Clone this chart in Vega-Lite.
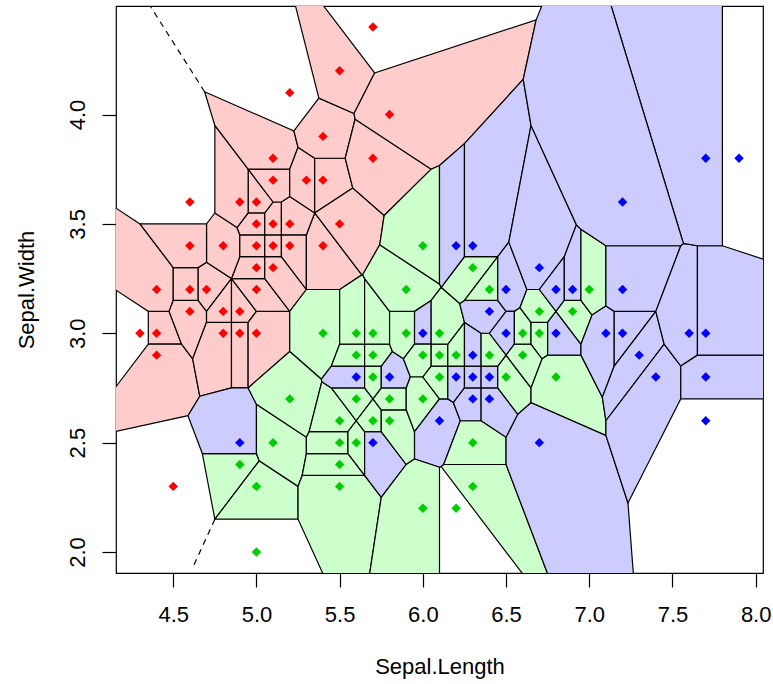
{
"$schema": "https://vega.github.io/schema/vega-lite/v6.json",
"width": 647, "height": 567,
"autosize": {"type": "none"},
"padding": {"left": 116, "top": 6, "right": 10, "bottom": 111},
"background": "white",
"config": {
 "view": {"stroke": "black", "strokeWidth": 1.2},
 "axis": {"domain": false, "grid": false, "tickColor": "black", "tickSize": 14, "tickWidth": 1.2,
  "labelFont": "Liberation Sans", "labelFontSize": 22, "labelColor": "black",
  "titleFont": "Liberation Sans", "titleFontSize": 22, "titleFontWeight": "normal", "titleColor": "black"}
},
"encoding": {
 "x": {"field": "x", "type": "quantitative", "scale": {"domain": [4.156, 8.044], "nice": false, "zero": false},
  "axis": {"values": [4.5,5,5.5,6,6.5,7,7.5,8], "format": ".1f", "title": "Sepal.Length", "labelPadding": 17, "titleY": 100, "titleBaseline": "alphabetic"}},
 "y": {"field": "y", "type": "quantitative", "scale": {"domain": [1.904, 4.496], "nice": false, "zero": false},
  "axis": {"values": [2,2.5,3,3.5,4], "format": ".1f", "title": "Sepal.Width", "labelAngle": -90, "labelAlign": "center", "labelBaseline": "bottom", "labelPadding": 13, "titleX": -83, "titleBaseline": "alphabetic", "titleAngle": -90}}
},
"layer": [
 {
  "data": {"values": "c,s,x,y\n1,S,4.55,2.95\n1,S,4.475,3.1\n1,S,4.35,3.1\n1,S,4.35,2.95\n2,S,4.5885,2.6231\n2,S,4.6595,2.7119\n2,S,4.6167,2.8833\n2,S,4.55,2.95\n2,S,4.35,2.95\n2,S,3.91,2.51\n3,S,4.5,3.3\n3,S,4.3,3.5\n3,S,2.3,4.5\n3,S,2.35,4.1\n3,S,4.35,3.1\n3,S,4.475,3.1\n3,S,4.5,3.15\n4,S,4.7,3.1\n4,S,4.65,3.15\n4,S,4.5,3.15\n4,S,4.475,3.1\n4,S,4.55,2.95\n4,S,4.6167,2.8833\n4,S,4.7,3.05\n5,S,4.65,3.15\n5,S,4.65,3.3\n5,S,4.5,3.3\n5,S,4.5,3.15\n6,S,4.85,3.25\n6,S,4.7,3.325\n6,S,4.65,3.3\n6,S,4.65,3.15\n6,S,4.7,3.1\n7,S,4.85,3.05\n7,S,4.7,3.05\n7,S,4.6167,2.8833\n7,S,4.6595,2.7119\n7,S,4.85,2.75\n8,S,4.85,3.05\n8,S,4.85,3.25\n8,S,4.7,3.1\n8,S,4.7,3.05\n9,S,4.95,3.05\n9,S,4.85,3.05\n9,S,4.85,2.75\n9,S,4.95,2.75\n10,S,5,3.1\n10,S,4.85,3.25\n10,S,4.85,3.05\n10,S,4.95,3.05\n11,S,5.2,2.9167\n11,S,5.2,3.1\n11,S,5,3.1\n11,S,4.95,3.05\n11,S,4.95,2.75\n12,S,5.2,3.1\n12,S,5.05,3.25\n12,S,4.85,3.25\n12,S,5,3.1\n13,S,5.05,3.25\n13,S,5.05,3.35\n13,S,4.9,3.35\n13,S,4.85,3.25\n14,S,5.3,3.2\n14,S,5.15,3.35\n14,S,5.05,3.35\n14,S,5.05,3.25\n14,S,5.2,3.1\n15,S,4.9,3.45\n15,S,4.8833,3.4833\n15,S,4.75,3.55\n15,S,4.7,3.5\n15,S,4.7,3.325\n15,S,4.85,3.25\n15,S,4.9,3.35\n16,S,4.7,3.5\n16,S,4.3,3.5\n16,S,4.5,3.3\n16,S,4.65,3.3\n16,S,4.7,3.325\n17,S,5.05,3.45\n17,S,4.9,3.45\n17,S,4.9,3.35\n17,S,5.05,3.35\n18,S,5.05,3.35\n18,S,5.15,3.35\n18,S,5.15,3.45\n18,S,5.05,3.45\n19,S,5.3,3.45\n19,S,5.15,3.45\n19,S,5.15,3.35\n19,S,5.3,3.2\n20,S,5.35,3.55\n20,S,5.3,3.45\n20,S,5.3,3.2\n20,S,5.5,3.2\n20,S,5.6333,3.2667\n21,V,5.5,3.2\n21,V,5.3,3.2\n21,V,5.2,3.1\n21,V,5.2,2.9167\n21,V,5.39,2.79\n21,V,5.45,2.85\n21,V,5.5,2.95\n22,S,5.05,3.55\n22,S,4.95,3.55\n22,S,4.8833,3.4833\n22,S,4.9,3.45\n22,S,5.05,3.45\n23,S,5.15,3.6\n23,S,5.1,3.6\n23,S,5.05,3.55\n23,S,5.05,3.45\n23,S,5.15,3.45\n24,S,5.35,3.55\n24,S,5.2,3.625\n24,S,5.15,3.6\n24,S,5.15,3.45\n24,S,5.3,3.45\n25,S,5.1,3.6\n25,S,4.95,3.75\n25,S,4.95,3.55\n25,S,5.05,3.55\n26,S,4.95,3.75\n26,S,4.75,3.95\n26,S,4.75,3.55\n26,S,4.8833,3.4833\n26,S,4.95,3.55\n27,S,5.2,3.75\n27,S,4.95,3.75\n27,S,5.1,3.6\n27,S,5.15,3.6\n27,S,5.2,3.625\n28,S,5.25,3.85\n28,S,5.225,3.925\n28,S,4.6885,4.1038\n28,S,4.75,3.95\n28,S,4.95,3.75\n28,S,5.2,3.75\n29,S,5.35,3.8\n29,S,5.25,3.85\n29,S,5.2,3.75\n29,S,5.2,3.625\n29,S,5.35,3.55\n30,S,5.5333,3.8\n30,S,5.35,3.8\n30,S,5.35,3.55\n30,S,5.5786,3.6643\n31,S,5.7676,3.5382\n31,S,5.5786,3.6643\n31,S,5.35,3.55\n31,S,5.6333,3.2667\n31,S,5.6382,3.2676\n31,S,5.7409,3.4045\n32,S,5.5929,3.9786\n32,S,5.5864,4.0045\n32,S,5.375,4.075\n32,S,5.225,3.925\n32,S,5.25,3.85\n32,S,5.35,3.8\n32,S,5.5333,3.8\n33,S,5.5929,3.9786\n33,S,5.5333,3.8\n33,S,5.5786,3.6643\n33,S,5.7676,3.5382\n33,S,6.05,3.75\n34,S,5.15,4.75\n34,S,5.375,4.075\n34,S,5.5864,4.0045\n34,S,5.71,4.19\n35,S,6.6031,4.1609\n35,S,6.6808,4.4327\n35,S,5.71,4.19\n35,S,5.5864,4.0045\n35,S,5.5929,3.9786\n35,S,6.05,3.75\n35,S,6.1,3.7667\n35,S,6.25,3.8667\n36,V,5.0167,2.4167\n36,V,5,2.45\n36,V,4.675,2.45\n36,V,4.75,2.15\n37,G,5,2.675\n37,G,4.95,2.75\n37,G,4.85,2.75\n37,G,4.6595,2.7119\n37,G,4.5885,2.6231\n37,G,4.675,2.45\n37,G,5,2.45\n38,V,5.25,2.3\n38,V,5.0167,2.4167\n38,V,4.75,2.15\n38,V,5.25,2.15\n39,V,5.3,2.525\n39,V,5,2.675\n39,V,5,2.45\n39,V,5.0167,2.4167\n39,V,5.25,2.3\n39,V,5.275,2.35\n39,V,5.3,2.45\n40,V,5.3929,2.7786\n40,V,5.39,2.79\n40,V,5.2,2.9167\n40,V,4.95,2.75\n40,V,5,2.675\n40,V,5.3,2.525\n40,V,5.3167,2.55\n41,V,5.65,2.35\n41,V,5.275,2.35\n41,V,5.25,2.3\n41,V,5.25,2.15\n41,V,5.61,1.55\n41,V,5.75,2.25\n42,V,5.55,2.45\n42,V,5.3,2.45\n42,V,5.275,2.35\n42,V,5.65,2.35\n43,V,5.55,2.55\n43,V,5.3167,2.55\n43,V,5.3,2.525\n43,V,5.3,2.45\n43,V,5.55,2.45\n44,V,5.6,2.6\n44,V,5.45,2.75\n44,V,5.3929,2.7786\n44,V,5.3167,2.55\n44,V,5.55,2.55\n45,V,5.65,2.55\n45,V,5.6,2.6\n45,V,5.55,2.55\n45,V,5.55,2.45\n45,V,5.65,2.35\n46,G,5.75,2.55\n46,G,5.65,2.55\n46,G,5.65,2.35\n46,G,5.75,2.25\n46,G,5.9,2.4\n47,V,5.7,2.7\n47,V,5.65,2.75\n47,V,5.45,2.75\n47,V,5.6,2.6\n48,V,5.75,2.65\n48,V,5.7,2.7\n48,V,5.6,2.6\n48,V,5.65,2.55\n48,V,5.75,2.55\n49,V,5.9,2.65\n49,V,5.75,2.65\n49,V,5.75,2.55\n49,V,5.9,2.4\n49,V,5.95,2.425\n49,V,5.95,2.55\n50,V,5.9,2.75\n50,V,5.75,2.75\n50,V,5.7,2.7\n50,V,5.75,2.65\n50,V,5.9,2.65\n51,G,5.65,2.85\n51,G,5.45,2.85\n51,G,5.39,2.79\n51,G,5.3929,2.7786\n51,G,5.45,2.75\n51,G,5.65,2.75\n52,V,5.75,2.85\n52,V,5.65,2.85\n52,V,5.65,2.75\n52,V,5.7,2.7\n52,V,5.75,2.75\n53,G,5.925,2.8\n53,G,5.8833,2.8833\n53,G,5.8167,2.9167\n53,G,5.75,2.85\n53,G,5.75,2.75\n53,G,5.9,2.75\n54,V,5.65,2.95\n54,V,5.5,2.95\n54,V,5.45,2.85\n54,V,5.65,2.85\n55,V,5.8167,2.9167\n55,V,5.8,2.95\n55,V,5.65,2.95\n55,V,5.65,2.85\n55,V,5.75,2.85\n56,V,5.65,3.25\n56,V,5.6382,3.2676\n56,V,5.6333,3.2667\n56,V,5.5,3.2\n56,V,5.5,2.95\n56,V,5.65,2.95\n57,V,5.8,3.1\n57,V,5.65,3.25\n57,V,5.65,2.95\n57,V,5.8,2.95\n58,V,5.95,3.1\n58,V,5.8,3.1\n58,V,5.8,2.95\n58,V,5.8167,2.9167\n58,V,5.8833,2.8833\n58,V,5.95,2.95\n59,V,6.11,3.21\n59,V,6.1,3.225\n59,V,5.7409,3.4045\n59,V,5.6382,3.2676\n59,V,5.65,3.25\n59,V,5.8,3.1\n59,V,5.95,3.1\n59,V,6.05,3.15\n60,V,6.1,3.7667\n60,V,6.05,3.75\n60,V,5.7676,3.5382\n60,V,5.7409,3.4045\n60,V,6.1,3.225\n61,G,6.05,3.15\n61,G,5.95,3.1\n61,G,5.95,2.95\n61,G,6.05,2.95\n62,V,6.05,2.95\n62,V,5.95,2.95\n62,V,5.8833,2.8833\n62,V,5.925,2.8\n62,V,6,2.8\n62,V,6.05,2.85\n63,V,6.1,2.7\n63,V,6,2.8\n63,V,5.925,2.8\n63,V,5.9,2.75\n63,V,5.9,2.65\n63,V,5.95,2.55\n64,G,6.225,2.6\n64,G,6.1833,2.6833\n64,G,6.15,2.7\n64,G,6.1,2.7\n64,G,5.95,2.55\n64,G,5.95,2.425\n64,G,6.1,2.3875\n64,G,6.11,2.39\n64,G,6.125,2.4\n65,V,6.1,2.3875\n65,V,5.95,2.425\n65,V,5.9,2.4\n65,V,5.75,2.25\n65,V,5.61,1.55\n65,V,6.1,-0.9\n66,V,6.5,2.4\n66,V,6.125,2.4\n66,V,6.11,2.39\n66,V,6.9,1.6\n67,V,6.5,2.525\n67,V,6.35,2.6\n67,V,6.225,2.6\n67,V,6.125,2.4\n67,V,6.5,2.4\n68,G,7.1,2.5333\n68,G,6.65,2.6833\n68,G,6.57,2.63\n68,G,6.5,2.525\n68,G,6.5,2.4\n68,G,6.9,1.6\n68,G,7.374,0.81\n68,G,7.2326,2.2239\n69,V,6.15,2.85\n69,V,6.05,2.85\n69,V,6,2.8\n69,V,6.1,2.7\n69,V,6.15,2.7\n70,G,6.25,2.85\n70,G,6.15,2.85\n70,G,6.15,2.7\n70,G,6.1833,2.6833\n70,G,6.25,2.75\n71,G,6.35,2.75\n71,G,6.25,2.75\n71,G,6.1833,2.6833\n71,G,6.225,2.6\n71,G,6.35,2.6\n72,G,6.45,2.75\n72,G,6.35,2.75\n72,G,6.35,2.6\n72,G,6.5,2.525\n72,G,6.57,2.63\n73,G,6.35,2.85\n73,G,6.25,2.85\n73,G,6.25,2.75\n73,G,6.35,2.75\n74,G,6.45,2.85\n74,G,6.35,2.85\n74,G,6.35,2.75\n74,G,6.45,2.75\n75,V,6.5,2.9\n75,V,6.45,2.85\n75,V,6.45,2.75\n75,V,6.57,2.63\n75,V,6.65,2.6833\n75,V,6.65,2.75\n76,V,6.15,2.95\n76,V,6.05,2.95\n76,V,6.05,2.85\n76,V,6.15,2.85\n77,V,6.25,3.05\n77,V,6.15,2.95\n77,V,6.15,2.85\n77,V,6.25,2.85\n78,G,6.35,3\n78,G,6.25,3.05\n78,G,6.25,2.85\n78,G,6.35,2.85\n79,V,6.5,2.9\n79,V,6.4,3\n79,V,6.35,3\n79,V,6.35,2.85\n79,V,6.45,2.85\n80,V,6.25,3.05\n80,V,6.2214,3.1357\n80,V,6.11,3.21\n80,V,6.05,3.15\n80,V,6.05,2.95\n80,V,6.15,2.95\n81,G,6.5,3.1\n81,G,6.45,3.15\n81,G,6.25,3.15\n81,G,6.2214,3.1357\n81,G,6.25,3.05\n81,G,6.35,3\n81,G,6.4,3\n82,V,6.45,3.35\n82,V,6.25,3.35\n82,V,6.11,3.21\n82,V,6.2214,3.1357\n82,V,6.25,3.15\n83,G,6.25,3.8667\n83,G,6.1,3.7667\n83,G,6.1,3.225\n83,G,6.11,3.21\n83,G,6.25,3.35\n84,G,6.5167,3.4167\n84,G,6.65,3.95\n84,G,6.6031,4.1609\n84,G,6.25,3.8667\n84,G,6.25,3.35\n84,G,6.45,3.35\n85,V,6.45,3.15\n85,V,6.45,3.35\n85,V,6.25,3.15\n86,G,6.625,3.2\n86,G,6.5167,3.4167\n86,G,6.45,3.35\n86,G,6.45,3.15\n86,G,6.5,3.1\n86,G,6.55,3.1\n86,G,6.5833,3.1167\n87,G,6.55,3.1\n87,G,6.5,3.1\n87,G,6.4,3\n87,G,6.5,2.9\n87,G,6.55,2.95\n88,V,6.65,2.95\n88,V,6.55,2.95\n88,V,6.5,2.9\n88,V,6.65,2.75\n88,V,6.7167,2.8833\n89,V,6.65,3.05\n89,V,6.5833,3.1167\n89,V,6.55,3.1\n89,V,6.55,2.95\n89,V,6.65,2.95\n90,V,6.75,3.05\n90,V,6.65,3.05\n90,V,6.65,2.95\n90,V,6.7167,2.8833\n90,V,6.75,2.9\n91,V,6.8,3.1\n91,V,6.7,3.2\n91,V,6.625,3.2\n91,V,6.5833,3.1167\n91,V,6.65,3.05\n91,V,6.75,3.05\n92,G,6.85,3.35\n92,G,6.9227,3.4955\n92,G,6.65,3.95\n92,G,6.5167,3.4167\n92,G,6.625,3.2\n92,G,6.7,3.2\n93,V,6.95,2.9\n93,V,6.75,2.9\n93,V,6.7167,2.8833\n93,V,6.65,2.75\n93,V,6.65,2.6833\n93,V,7.1,2.5333\n93,V,7.1,2.6\n93,V,7.0786,2.7071\n94,G,6.8,3.1\n94,G,6.75,3.05\n94,G,6.75,2.9\n94,G,6.95,2.9\n94,G,6.95,2.95\n95,G,6.85,3.35\n95,G,6.7,3.2\n95,G,6.8,3.1\n95,G,6.85,3.15\n96,V,6.95,3.15\n96,V,6.85,3.15\n96,V,6.8,3.1\n96,V,6.95,2.95\n96,V,7.0167,3.0833\n97,G,6.95,3.475\n97,G,6.9227,3.4955\n97,G,6.85,3.35\n97,G,6.85,3.15\n97,G,6.95,3.15\n98,V,7.1,3.4\n98,V,6.95,3.475\n98,V,6.95,3.15\n98,V,7.0167,3.0833\n98,V,7.1,3.125\n99,G,7.15,3.1\n99,G,7.1,3.125\n99,G,7.0167,3.0833\n99,G,6.95,2.95\n99,G,6.95,2.9\n99,G,7.0786,2.7071\n99,G,7.15,2.85\n100,G,7.4,3.1\n100,G,7.15,3.1\n100,G,7.15,2.85\n101,G,7.55,3.4\n101,G,7.1,3.4\n101,G,7.1,3.125\n101,G,7.15,3.1\n101,G,7.4,3.1\n102,G,7.45,2.95\n102,G,7.4,3.1\n102,G,7.15,2.85\n102,G,7.0786,2.7071\n102,G,7.1,2.6\n103,G,7.55,2.85\n103,G,7.45,2.95\n103,G,7.1,2.6\n103,G,7.1,2.5333\n103,G,7.2326,2.2239\n103,G,7.55,2.7\n104,G,7.65,3.4\n104,G,7.5658,3.4105\n104,G,7.55,3.4\n104,G,7.4,3.1\n104,G,7.45,2.95\n104,G,7.55,2.85\n104,G,7.65,2.9\n105,G,9.8,2.9\n105,G,7.65,2.9\n105,G,7.55,2.85\n105,G,7.55,2.7\n105,G,10.8,2.7\n106,G,7.8,3.4\n106,G,7.65,3.4\n106,G,7.65,2.9\n106,G,9.8,2.9\n107,G,7.8,7.7667\n107,G,6.9529,4.9429\n107,G,7.5658,3.4105\n107,G,7.65,3.4\n107,G,7.8,3.4\n108,G,6.9529,4.9429\n108,G,6.6808,4.4327\n108,G,6.6031,4.1609\n108,G,6.65,3.95\n108,G,6.9227,3.4955\n108,G,6.95,3.475\n108,G,7.1,3.4\n108,G,7.55,3.4\n108,G,7.5658,3.4105", "format": {"type": "csv", "parse": {"x": "number", "y": "number", "c": "string"}}},
  "mark": {"type": "line", "interpolate": "linear-closed", "stroke": "black", "strokeWidth": 1.2, "clip": true},
  "encoding": {
   "detail": {"field": "c", "type": "nominal"},
   "order": {"value": null},
   "fill": {"field": "s", "type": "nominal", "scale": {"domain": ["S", "V", "G"], "range": ["#FFCCCC", "#CCFFCC", "#CCCCFF"]}, "legend": null}
  }
 },
 {
  "data": {"values": [{"x": 4.6885, "y": 4.1038, "x2": 4.3655, "y2": 4.491}, {"x": 4.75, "y": 2.15, "x2": 4.623, "y2": 1.939}]},
  "mark": {"type": "rule", "stroke": "black", "strokeWidth": 1.2, "strokeDash": [6, 5], "clip": true},
  "encoding": {"x2": {"field": "x2"}, "y2": {"field": "y2"}}
 },
 {
  "data": {"values": "x,y,s\n4.3,3.0,S\n4.4,2.9,S\n4.4,3.0,S\n4.4,3.2,S\n4.5,2.3,S\n4.6,3.1,S\n4.6,3.2,S\n4.6,3.4,S\n4.6,3.6,S\n4.7,3.2,S\n4.8,3.0,S\n4.8,3.1,S\n4.8,3.4,S\n4.9,3.0,S\n4.9,3.1,S\n4.9,3.6,S\n5.0,3.0,S\n5.0,3.2,S\n5.0,3.3,S\n5.0,3.4,S\n5.0,3.5,S\n5.0,3.6,S\n5.1,3.3,S\n5.1,3.4,S\n5.1,3.5,S\n5.1,3.7,S\n5.1,3.8,S\n5.2,3.4,S\n5.2,3.5,S\n5.2,4.1,S\n5.3,3.7,S\n5.4,3.4,S\n5.4,3.7,S\n5.4,3.9,S\n5.5,3.5,S\n5.5,4.2,S\n5.7,3.8,S\n5.7,4.4,S\n5.8,4.0,S\n4.9,2.4,V\n5.0,2.0,V\n5.0,2.3,V\n5.1,2.5,V\n5.2,2.7,V\n5.4,3.0,V\n5.5,2.3,V\n5.5,2.4,V\n5.5,2.5,V\n5.5,2.6,V\n5.6,2.5,V\n5.6,2.7,V\n5.6,2.9,V\n5.6,3.0,V\n5.7,2.6,V\n5.7,2.8,V\n5.7,2.9,V\n5.7,3.0,V\n5.8,2.6,V\n5.8,2.7,V\n5.9,3.0,V\n5.9,3.2,V\n6.0,2.2,V\n6.0,2.7,V\n6.0,2.9,V\n6.0,3.4,V\n6.1,2.8,V\n6.1,2.9,V\n6.1,3.0,V\n6.2,2.2,V\n6.2,2.9,V\n6.3,2.3,V\n6.3,2.5,V\n6.3,3.3,V\n6.4,2.9,V\n6.4,3.2,V\n6.5,2.8,V\n6.6,2.9,V\n6.6,3.0,V\n6.7,3.0,V\n6.7,3.1,V\n6.8,2.8,V\n6.9,3.1,V\n7.0,3.2,V\n4.9,2.5,G\n5.6,2.8,G\n5.7,2.5,G\n5.8,2.8,G\n6.0,3.0,G\n6.1,2.6,G\n6.2,2.8,G\n6.2,3.4,G\n6.3,2.7,G\n6.3,2.8,G\n6.3,2.9,G\n6.3,3.4,G\n6.4,2.7,G\n6.4,2.8,G\n6.4,3.1,G\n6.5,3.0,G\n6.5,3.2,G\n6.7,2.5,G\n6.7,3.3,G\n6.8,3.0,G\n6.8,3.2,G\n6.9,3.2,G\n7.1,3.0,G\n7.2,3.0,G\n7.2,3.2,G\n7.2,3.6,G\n7.3,2.9,G\n7.4,2.8,G\n7.6,3.0,G\n7.7,2.6,G\n7.7,2.8,G\n7.7,3.0,G\n7.7,3.8,G\n7.9,3.8,G", "format": {"type": "csv", "parse": {"x": "number", "y": "number"}}},
  "mark": {"type": "point", "shape": "diamond", "filled": true, "size": 90, "opacity": 1, "strokeWidth": 0},
  "encoding": {
   "color": {"field": "s", "type": "nominal", "scale": {"domain": ["S", "V", "G"], "range": ["#FF0000", "#00CD00", "#0000FF"]}, "legend": null}
  }
 }
]
}
